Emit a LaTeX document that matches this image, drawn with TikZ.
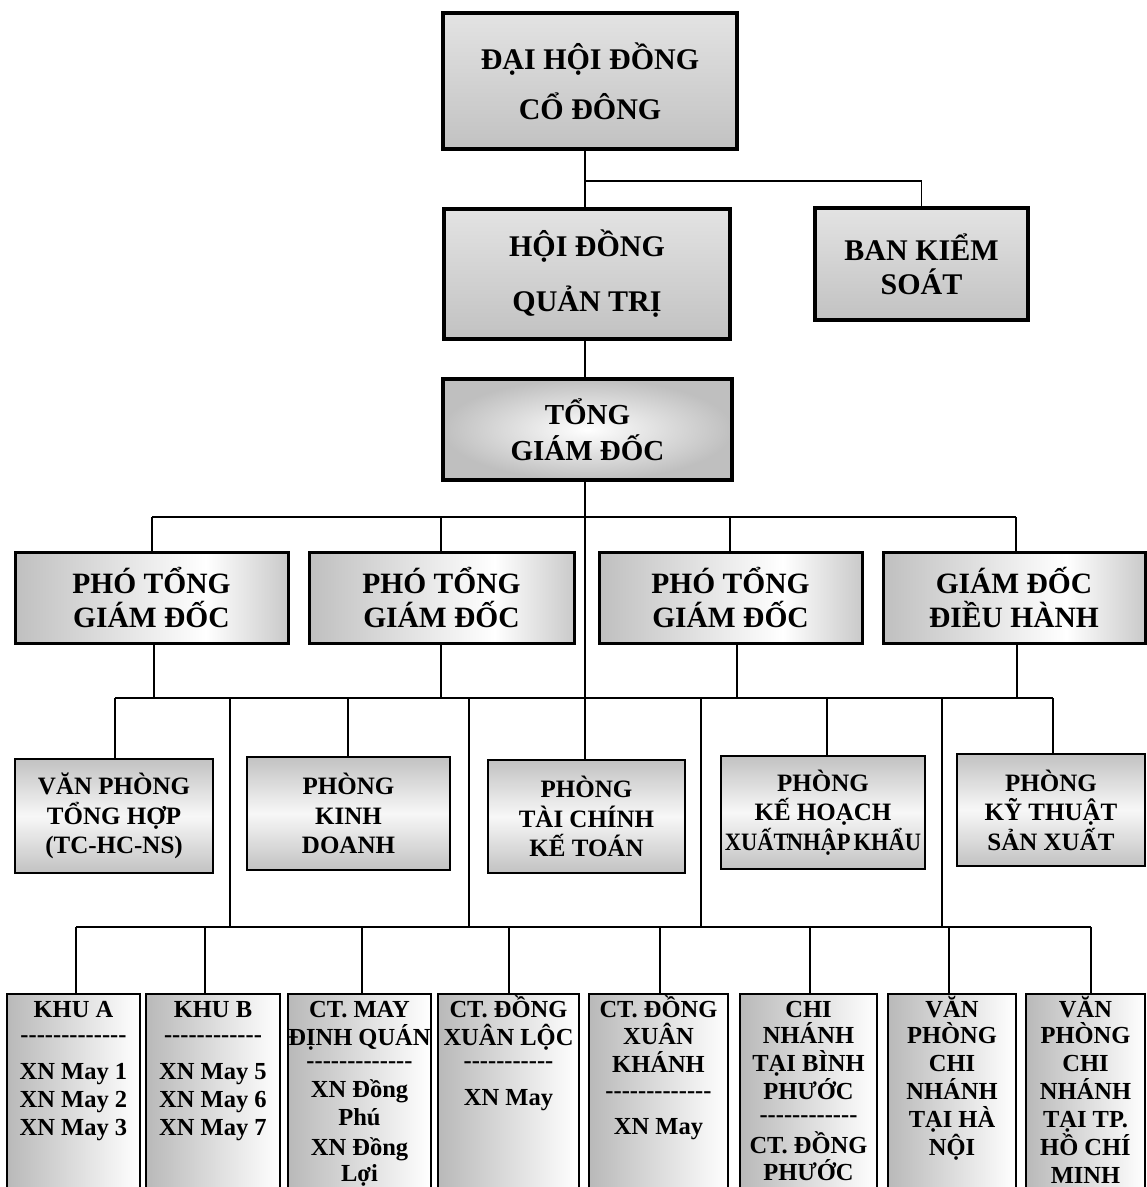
\documentclass[tikz,border=0pt]{standalone}
\usepackage{fontspec}
\usepackage{graphicx}
\newfontfamily\vf{Liberation Serif}
\pgfdeclarehorizontalshading{phoshade}{100bp}{color(0bp)=(gray!50); color(25bp)=(gray!50); color(60bp)=(white); color(75bp)=(gray!42); color(100bp)=(gray!42)}
\newcommand\bt[2]{\parbox[c][205pt][t]{#1pt}{\centering\rule{0pt}{23pt}#2}}
\tikzset{
  box/.style={draw, line width=2.6pt, inner sep=0pt, align=center},
  topbox/.style={box, line width=3.5pt, top color=gray!22, bottom color=gray!48, font=\vf\bfseries\fontsize{30}{36}\selectfont},
  tgdbox/.style={box, line width=3.2pt, inner color=white, outer color=gray!50, font=\vf\bfseries\fontsize{29}{36}\selectfont},
  phobox/.style={box, line width=3pt, shade, shading=phoshade, font=\vf\bfseries\fontsize{29.5}{34}\selectfont},
  midbox/.style={box, line width=2.4pt, top color=gray!48, bottom color=gray!48, middle color=gray!6, font=\vf\bfseries\fontsize{25}{29.5}\selectfont},
  botbox/.style={box, line width=2.4pt, anchor=north, left color=gray!55, right color=white, font=\vf\bfseries\fontsize{24.5}{28}\selectfont},
  conn/.style={line width=1.8pt},
}
\begin{document}
\begin{tikzpicture}[x=1pt,y=-1pt]
\useasboundingbox (0,0) rectangle (1147,1187);
\clip (0,0) rectangle (1147,1187);

% top levels
\node[topbox, minimum width=294, minimum height=136] (dh) at (590,81) {ĐẠI HỘI ĐỒNG\\[14pt]CỔ ĐÔNG};
\node[topbox, minimum width=286, minimum height=130] (hd) at (587,274) {HỘI ĐỒNG\\[19pt]QUẢN TRỊ};
\node[topbox, font=\vf\bfseries\fontsize{30}{34}\selectfont, minimum width=213, minimum height=112] (bks) at (921.5,264) {BAN KIỂM\\SOÁT};
\node[tgdbox, minimum width=289, minimum height=101] (tgd) at (587.5,429.5) {TỔNG\\GIÁM ĐỐC};

% deputies
\node[phobox, minimum width=273, minimum height=91] (p1) at (151.5,597.5) {PHÓ TỔNG\\GIÁM ĐỐC};
\node[phobox, minimum width=265, minimum height=91] (p2) at (441.5,597.5) {PHÓ TỔNG\\GIÁM ĐỐC};
\node[phobox, minimum width=263, minimum height=91] (p3) at (730.5,597.5) {PHÓ TỔNG\\GIÁM ĐỐC};
\node[phobox, minimum width=262, minimum height=91] (p4) at (1014,597.5) {GIÁM ĐỐC\\ĐIỀU HÀNH};

% departments
\node[midbox, minimum width=198, minimum height=114] (vp) at (114,816) {VĂN PHÒNG\\TỔNG HỢP\\(TC-HC-NS)};
\node[midbox, minimum width=203, minimum height=113] (kd) at (348.5,813.5) {PHÒNG\\KINH\\DOANH};
\node[midbox, minimum width=197, minimum height=113] (tc) at (586.5,816.5) {PHÒNG\\TÀI CHÍNH\\KẾ TOÁN};
\node[midbox, minimum width=204, minimum height=113] (kh) at (823,812.5) {PHÒNG\\KẾ HOẠCH\\\scalebox{0.9}[1]{XUẤT\hspace{-2pt}NHẬP\hspace{-3pt} KHẨU}};
\node[midbox, minimum width=188, minimum height=112] (kt) at (1051,810) {PHÒNG\\KỸ THUẬT\\SẢN XUẤT};

% units
\node[botbox, minimum width=133] (ka) at (73.5,993) {\bt{129}{KHU A\\[-2.6pt]-------------\\[9pt]XN May 1\\XN May 2\\XN May 3}};
\node[botbox, minimum width=134] (kb) at (213,993) {\bt{130}{KHU B\\[-2.6pt]------------\\[9pt]XN May 5\\XN May 6\\XN May 7}};
\node[botbox, minimum width=143] (dq) at (359.5,993) {\bt{143}{CT. MAY\\ĐỊNH QUÁN\\[-4.5pt]-------------\\[0.5pt]XN Đồng\\Phú\\[2pt]XN Đồng\\[-2pt]Lợi}};
\node[botbox, minimum width=141] (dxl) at (508.5,993) {\bt{139}{CT. ĐỒNG\\XUÂN LỘC\\[-5pt]-----------\\[9pt]XN May}};
\node[botbox, minimum width=139] (dxk) at (658.5,993) {\bt{135}{\vspace{-2pt}CT. ĐỒNG\\[1pt]XUÂN\\KHÁNH\\[-2pt]-------------\\[8pt]XN May}};
\node[botbox, minimum width=137] (bp) at (808.5,993) {\bt{133}{CHI\\[-2pt]NHÁNH\\TẠI BÌNH\\PHƯỚC\\[-5pt]------------\\[3pt]CT. ĐỒNG\\[-1pt]PHƯỚC}};
\node[botbox, minimum width=128] (hn) at (952,993) {\bt{124}{\vspace{-2pt}VĂN\\PHÒNG\\CHI\\NHÁNH\\TẠI HÀ\\NỘI}};
\node[botbox, minimum width=119] (hcm) at (1085.5,993) {\bt{117}{\vspace{-2pt}VĂN\\PHÒNG\\CHI\\NHÁNH\\TẠI TP.\\HỒ CHÍ\\MINH}};

% connectors, top
\coordinate (a0) at (585,181);
\draw[conn] (dh.south -| a0) -- (hd.north -| a0);
\draw[conn] (a0) -| (bks.north);
\draw[conn] (hd.south -| a0) -- (tgd.north -| a0);
\draw[conn] (tgd.south -| a0) -- (tc.north -| a0);

% level 1
\coordinate (b1) at (152,517);
\coordinate (b2) at (441,517);
\coordinate (b3) at (730,517);
\coordinate (b4) at (1016,517);
\draw[conn] (b1) -- (b4);
\draw[conn] (b1) -- (p1.north -| b1);
\draw[conn] (b2) -- (p2.north -| b2);
\draw[conn] (b3) -- (p3.north -| b3);
\draw[conn] (b4) -- (p4.north -| b4);

% level 2
\coordinate (c1) at (154,698);
\coordinate (c2) at (441,698);
\coordinate (c3) at (737,698);
\coordinate (c4) at (1017,698);
\draw[conn] (p1.south -| c1) -- (c1);
\draw[conn] (p2.south -| c2) -- (c2);
\draw[conn] (p3.south -| c3) -- (c3);
\draw[conn] (p4.south -| c4) -- (c4);
\coordinate (m1) at (115,698);
\coordinate (m2) at (348,698);
\coordinate (m4) at (827,698);
\coordinate (m5) at (1053,698);
\draw[conn] (m1) -- (m5);
\draw[conn] (m1) -- (vp.north -| m1);
\draw[conn] (m2) -- (kd.north -| m2);
\draw[conn] (m4) -- (kh.north -| m4);
\draw[conn] (m5) -- (kt.north -| m5);

% level 3
\coordinate (d1) at (76,927);
\coordinate (d2) at (205,927);
\coordinate (d3) at (362,927);
\coordinate (d4) at (509,927);
\coordinate (d5) at (660,927);
\coordinate (d6) at (810,927);
\coordinate (d7) at (949,927);
\coordinate (d8) at (1091,927);
\draw[conn] (d1) -- (d8);
\coordinate (l1) at (230,698);
\coordinate (l2) at (469,698);
\coordinate (l3) at (701,698);
\coordinate (l4) at (942,698);
\draw[conn] (l1) -- (l1 |- d1);
\draw[conn] (l2) -- (l2 |- d1);
\draw[conn] (l3) -- (l3 |- d1);
\draw[conn] (l4) -- (l4 |- d1);
\draw[conn] (d1) -- (ka.north -| d1);
\draw[conn] (d2) -- (kb.north -| d2);
\draw[conn] (d3) -- (dq.north -| d3);
\draw[conn] (d4) -- (dxl.north -| d4);
\draw[conn] (d5) -- (dxk.north -| d5);
\draw[conn] (d6) -- (bp.north -| d6);
\draw[conn] (d7) -- (hn.north -| d7);
\draw[conn] (d8) -- (hcm.north -| d8);
\end{tikzpicture}
\end{document}
